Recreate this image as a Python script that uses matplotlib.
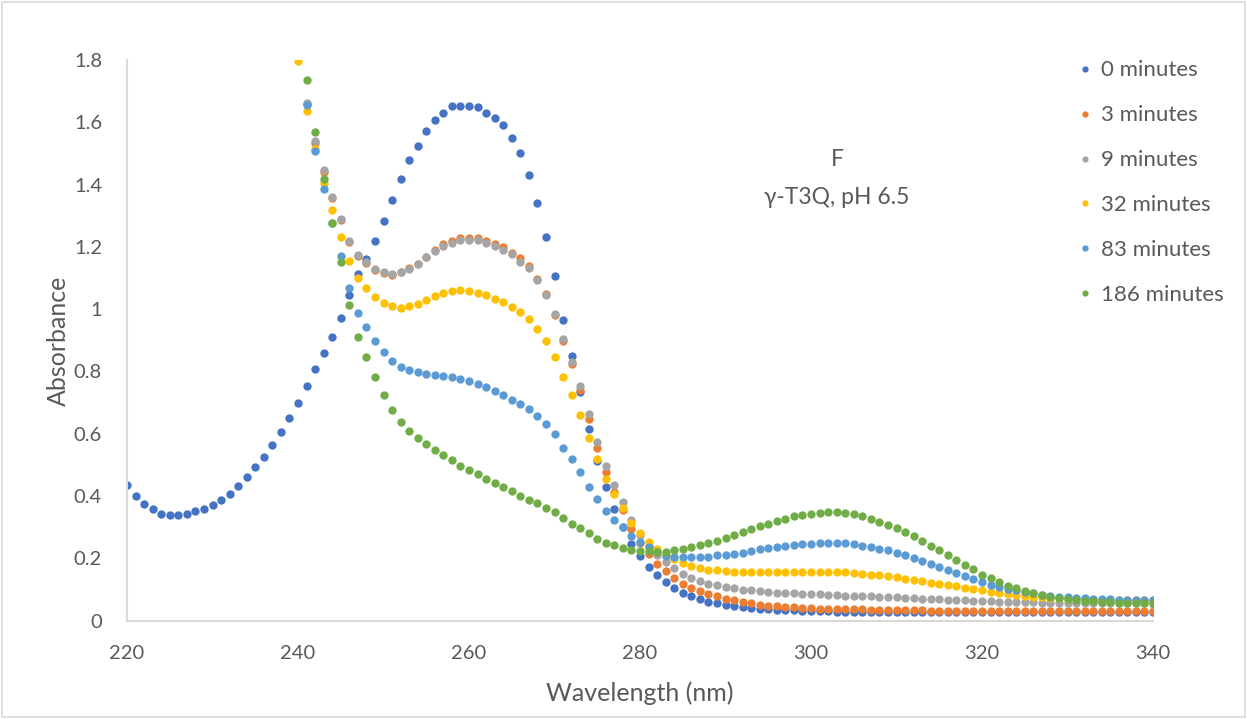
import matplotlib
matplotlib.use("Agg")
import matplotlib.pyplot as plt
from matplotlib.patches import Rectangle
import numpy as np

plt.rcParams['font.family'] = ['Lato', 'DejaVu Sans']

# wavelength grid (nm), 1 nm steps
wl_all = np.arange(220, 341)

# 0 minutes: full 220-340 nm
abs_0 = [0.437, 0.399, 0.375, 0.357, 0.343, 0.340, 0.339, 0.341, 0.351, 0.360,
         0.370, 0.387, 0.408, 0.433, 0.462, 0.492, 0.525, 0.564, 0.606, 0.650,
         0.698, 0.753, 0.807, 0.859, 0.911, 0.973, 1.046, 1.113, 1.162, 1.219,
         1.282, 1.350, 1.418, 1.478, 1.524, 1.573, 1.608, 1.630, 1.652, 1.652,
         1.652, 1.650, 1.629, 1.613, 1.591, 1.551, 1.503, 1.431, 1.340, 1.233,
         1.107, 0.965, 0.849, 0.735, 0.617, 0.513, 0.428, 0.358, 0.300, 0.246,
         0.207, 0.173, 0.148, 0.124, 0.106, 0.090, 0.079, 0.070, 0.061, 0.057,
         0.051, 0.046, 0.045, 0.042, 0.039, 0.037, 0.035, 0.034, 0.033, 0.032,
         0.031, 0.030, 0.030, 0.029, 0.028, 0.028, 0.028, 0.028, 0.028, 0.028,
         0.028, 0.028, 0.028, 0.028, 0.028, 0.028, 0.028, 0.028, 0.028, 0.028,
         0.028, 0.028, 0.028, 0.028, 0.028, 0.028, 0.028, 0.028, 0.028, 0.028,
         0.028, 0.028, 0.028, 0.028, 0.028, 0.028, 0.028, 0.028, 0.028, 0.028,
         0.028]

# 3 minutes: from 241 nm (higher values fall off the chart)
abs_3 = [1.660, 1.535, 1.442, 1.357, 1.286, 1.217, 1.170, 1.148, 1.126,
         1.115, 1.110, 1.120, 1.132, 1.146, 1.168, 1.190, 1.208, 1.220, 1.228,
         1.230, 1.228, 1.220, 1.208, 1.199, 1.182, 1.164, 1.139, 1.098, 1.049,
         0.980, 0.898, 0.825, 0.742, 0.648, 0.556, 0.477, 0.413, 0.355, 0.295,
         0.250, 0.214, 0.182, 0.158, 0.136, 0.118, 0.106, 0.096, 0.086, 0.078,
         0.071, 0.065, 0.060, 0.057, 0.052, 0.048, 0.047, 0.045, 0.044, 0.042,
         0.040, 0.039, 0.039, 0.038, 0.037, 0.037, 0.036, 0.035, 0.034, 0.034,
         0.034, 0.033, 0.033, 0.033, 0.032, 0.032, 0.032, 0.032, 0.032, 0.032,
         0.032, 0.031, 0.031, 0.031, 0.031, 0.031, 0.031, 0.031, 0.031, 0.031,
         0.031, 0.031, 0.031, 0.031, 0.031, 0.031, 0.031, 0.031, 0.031, 0.031,
         0.031]

# 9 minutes: from 241 nm
abs_9 = [1.662, 1.540, 1.447, 1.361, 1.289, 1.220, 1.174, 1.153, 1.128,
         1.118, 1.113, 1.120, 1.130, 1.144, 1.166, 1.186, 1.204, 1.214, 1.222,
         1.222, 1.222, 1.213, 1.202, 1.191, 1.176, 1.153, 1.131, 1.094, 1.046,
         0.984, 0.904, 0.832, 0.754, 0.662, 0.575, 0.498, 0.437, 0.380, 0.324,
         0.275, 0.240, 0.212, 0.189, 0.170, 0.150, 0.138, 0.127, 0.119, 0.115,
         0.109, 0.104, 0.100, 0.097, 0.094, 0.092, 0.090, 0.089, 0.088, 0.087,
         0.086, 0.085, 0.082, 0.081, 0.080, 0.080, 0.079, 0.078, 0.077, 0.076,
         0.075, 0.074, 0.072, 0.071, 0.070, 0.069, 0.067, 0.066, 0.065, 0.064,
         0.063, 0.062, 0.061, 0.060, 0.060, 0.059, 0.059, 0.058, 0.058, 0.057,
         0.057, 0.057, 0.056, 0.056, 0.056, 0.056, 0.056, 0.056, 0.056, 0.056,
         0.055]

# 32 minutes: from 240 nm
abs_32 = [1.796, 1.635, 1.513, 1.406, 1.319, 1.233, 1.155, 1.099, 1.067, 1.040,
          1.020, 1.009, 1.005, 1.010, 1.017, 1.029, 1.042, 1.052, 1.058, 1.061,
          1.060, 1.053, 1.044, 1.034, 1.022, 1.007, 0.990, 0.968, 0.937, 0.897,
          0.848, 0.783, 0.724, 0.660, 0.588, 0.519, 0.456, 0.407, 0.361, 0.315,
          0.282, 0.254, 0.229, 0.210, 0.197, 0.184, 0.175, 0.170, 0.164, 0.163,
          0.159, 0.157, 0.157, 0.157, 0.157, 0.156, 0.156, 0.156, 0.157, 0.157,
          0.157, 0.157, 0.156, 0.155, 0.155, 0.153, 0.151, 0.148, 0.146, 0.142,
          0.139, 0.135, 0.132, 0.127, 0.122, 0.119, 0.115, 0.110, 0.106, 0.103,
          0.098, 0.093, 0.090, 0.086, 0.084, 0.080, 0.077, 0.076, 0.074, 0.072,
          0.071, 0.070, 0.069, 0.067, 0.067, 0.066, 0.066, 0.066, 0.065, 0.065,
          0.065]

# 83 minutes: from 241 nm
abs_83 = [1.655, 1.507, 1.386, 1.278, 1.170, 1.069, 0.988, 0.943, 0.898,
          0.862, 0.833, 0.814, 0.804, 0.798, 0.793, 0.789, 0.787, 0.783, 0.776,
          0.768, 0.759, 0.749, 0.736, 0.725, 0.710, 0.695, 0.679, 0.657, 0.630,
          0.598, 0.554, 0.519, 0.476, 0.430, 0.391, 0.353, 0.324, 0.300, 0.271,
          0.252, 0.238, 0.222, 0.208, 0.206, 0.205, 0.205, 0.205, 0.206, 0.210,
          0.211, 0.214, 0.218, 0.225, 0.231, 0.234, 0.236, 0.241, 0.243, 0.245,
          0.247, 0.248, 0.249, 0.249, 0.248, 0.246, 0.241, 0.236, 0.230, 0.226,
          0.217, 0.210, 0.201, 0.193, 0.181, 0.172, 0.164, 0.153, 0.143, 0.134,
          0.124, 0.116, 0.109, 0.103, 0.097, 0.092, 0.088, 0.084, 0.080, 0.077,
          0.075, 0.074, 0.072, 0.071, 0.070, 0.069, 0.067, 0.067, 0.066, 0.066,
          0.065]

# 186 minutes: from 241 nm
abs_186 = [1.737, 1.568, 1.418, 1.278, 1.152, 1.012, 0.910, 0.848, 0.783,
           0.724, 0.676, 0.637, 0.610, 0.588, 0.566, 0.547, 0.531, 0.516, 0.498,
           0.483, 0.471, 0.456, 0.441, 0.428, 0.415, 0.401, 0.389, 0.377, 0.362,
           0.348, 0.330, 0.312, 0.296, 0.280, 0.263, 0.251, 0.243, 0.234, 0.228,
           0.225, 0.224, 0.222, 0.222, 0.227, 0.231, 0.238, 0.243, 0.248, 0.257,
           0.266, 0.275, 0.284, 0.293, 0.303, 0.310, 0.320, 0.326, 0.335, 0.340,
           0.343, 0.347, 0.348, 0.348, 0.346, 0.341, 0.336, 0.328, 0.318, 0.307,
           0.297, 0.285, 0.271, 0.257, 0.239, 0.226, 0.210, 0.194, 0.179, 0.165,
           0.148, 0.137, 0.124, 0.112, 0.104, 0.095, 0.088, 0.082, 0.077, 0.073,
           0.071, 0.067, 0.064, 0.062, 0.060, 0.059, 0.058, 0.057, 0.056, 0.056,
           0.056]

labels = ['0 minutes', '3 minutes', '9 minutes', '32 minutes', '83 minutes', '186 minutes']
series = [abs_0, abs_3, abs_9, abs_32, abs_83, abs_186]
colors = ['#4472C4', '#ED7D31', '#A5A5A5', '#FFC000', '#5B9BD5', '#70AD47']

fig = plt.figure(figsize=(12.47, 7.19), dpi=100)
ax = fig.add_axes([127 / 1247, 1 - 620.7 / 719, (1153 - 127) / 1247, (620.7 - 60) / 719])

for vals, lab, col in zip(series, labels, colors):
    wl = wl_all[len(wl_all) - len(vals):]
    ax.plot(wl, vals, 'o', ms=6, mew=0, color=col, label=lab, clip_on=True)

ax.set_xlim(220, 340)
ax.set_ylim(0, 1.8)
ax.set_xticks(np.arange(220, 341, 20))
ax.set_yticks(np.arange(0, 1.81, 0.2))
ax.set_yticklabels(['0', '0.2', '0.4', '0.6', '0.8', '1', '1.2', '1.4', '1.6', '1.8'])

txt = '#595959'
ax.tick_params(length=0, labelsize=14.5, colors=txt)
ax.tick_params(axis='y', pad=18)
ax.tick_params(axis='x', pad=17.5)
for s in ['top', 'right']:
    ax.spines[s].set_visible(False)
for s in ['left', 'bottom']:
    ax.spines[s].set_color('#d9d9d9')
    ax.spines[s].set_linewidth(1.5)

ax.set_xlabel('Wavelength (nm)', fontsize=18, color=txt, labelpad=14)
ax.set_ylabel('Absorbance', fontsize=18, color=txt, labelpad=3)

fig.text(837 / 1247, 1 - 159 / 719, 'F', fontsize=16.5, color=txt, ha='center', va='center')
fig.text(837 / 1247, 1 - 198 / 719, 'γ-T3Q, pH 6.5', fontsize=16.5, color=txt, ha='center', va='center')

leg = ax.legend(loc='upper left', bbox_to_anchor=(1079 / 1247, 1 - 60.5 / 719),
                bbox_transform=fig.transFigure, frameon=False, fontsize=16,
                handlelength=0.5, handletextpad=0.5, labelspacing=1.12,
                markerscale=0.75, borderpad=0, borderaxespad=0)
for t in leg.get_texts():
    t.set_color(txt)

fig.patches.append(Rectangle((0.002, 0.003), 0.996, 0.994, transform=fig.transFigure,
                             fill=False, edgecolor='#d9d9d9', linewidth=1.2))

fig.savefig('out.png', dpi=100)
